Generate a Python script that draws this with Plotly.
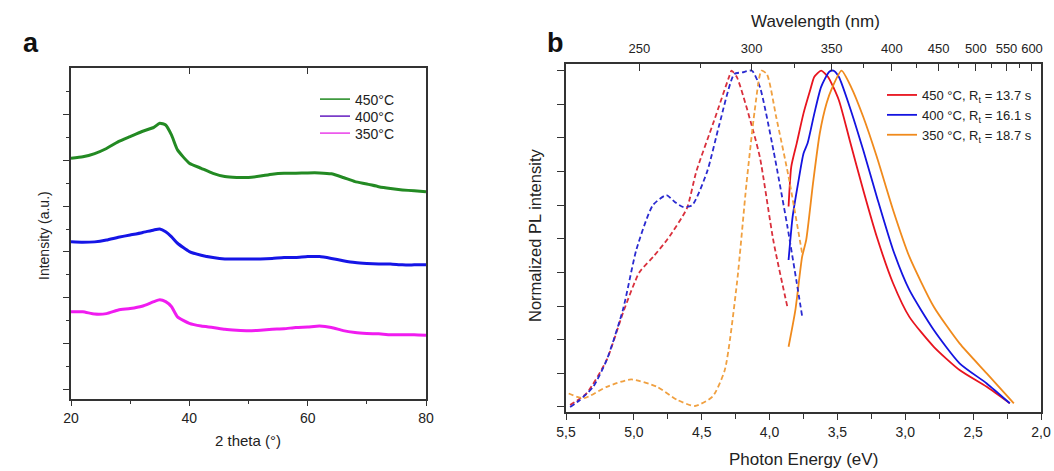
import plotly.graph_objects as go

W, H = 1054, 471

# ---- panel a: XRD patterns (offset, arbitrary units) ----
theta = [20, 22, 24, 26, 28, 30, 32, 34, 35, 36, 37, 38, 40, 42, 44, 46, 48, 50,
         52, 54, 56, 58, 60, 62, 64, 66, 68, 70, 72, 74, 76, 78, 80]
xrd_450 = [5.04, 5.07, 5.14, 5.25, 5.40, 5.51, 5.62, 5.71, 5.80, 5.76, 5.54, 5.22, 4.93,
           4.82, 4.71, 4.64, 4.62, 4.62, 4.65, 4.69, 4.71, 4.71, 4.72, 4.72, 4.70, 4.62,
           4.53, 4.48, 4.42, 4.38, 4.35, 4.33, 4.31]
xrd_400 = [3.22, 3.21, 3.22, 3.26, 3.32, 3.37, 3.42, 3.48, 3.50, 3.44, 3.33, 3.19, 3.01,
           2.93, 2.88, 2.85, 2.85, 2.85, 2.85, 2.86, 2.88, 2.88, 2.90, 2.90, 2.86, 2.81,
           2.77, 2.75, 2.74, 2.74, 2.72, 2.72, 2.72]
xrd_350 = [1.70, 1.70, 1.65, 1.66, 1.74, 1.77, 1.82, 1.92, 1.96, 1.92, 1.81, 1.59, 1.45,
           1.39, 1.36, 1.32, 1.30, 1.29, 1.30, 1.32, 1.33, 1.36, 1.37, 1.39, 1.36, 1.29,
           1.25, 1.23, 1.22, 1.20, 1.20, 1.20, 1.19]
xrd_names = ["450°C", "400°C", "350°C"]

# ---- panel b: excitation (dashed) and PL (solid), normalized ----
exc450_e = [5.47, 5.35, 5.20, 5.08, 4.96, 4.85, 4.75, 4.61, 4.54, 4.41, 4.30, 4.28, 4.24,
            4.12, 4.07, 3.97, 3.87]
exc450 = [0.006, 0.04, 0.14, 0.28, 0.40, 0.45, 0.50, 0.59, 0.70, 0.85, 0.98, 1.0, 0.98,
          0.82, 0.74, 0.49, 0.30]
exc400_e = [5.47, 5.40, 5.30, 5.20, 5.08, 4.98, 4.86, 4.76, 4.70, 4.64, 4.57, 4.46, 4.37,
            4.26, 4.20, 4.13, 4.07, 3.97, 3.87, 3.80, 3.76]
exc400 = [0.0, 0.02, 0.06, 0.14, 0.29, 0.47, 0.60, 0.63, 0.61, 0.595, 0.60, 0.70, 0.84,
          0.99, 0.995, 1.0, 0.95, 0.76, 0.54, 0.37, 0.27]
exc350_e = [5.48, 5.37, 5.20, 5.02, 4.83, 4.68, 4.55, 4.42, 4.33, 4.24, 4.17, 4.11, 4.06,
            4.02, 3.95, 3.86, 3.76]
exc350 = [0.04, 0.026, 0.06, 0.082, 0.06, 0.021, 0.003, 0.031, 0.11, 0.37, 0.665, 0.88,
          1.0, 0.99, 0.86, 0.685, 0.457]

pl450_e = [3.86, 3.84, 3.80, 3.75, 3.70, 3.67, 3.62, 3.57, 3.49, 3.41, 3.31, 3.21, 3.09,
           2.97, 2.79, 2.60, 2.40, 2.23]
pl450 = [0.596, 0.715, 0.784, 0.873, 0.943, 0.982, 1.0, 0.982, 0.913, 0.794, 0.645, 0.506,
         0.368, 0.268, 0.179, 0.11, 0.06, 0.011]
pl400_e = [3.86, 3.83, 3.79, 3.75, 3.72, 3.67, 3.62, 3.56, 3.53, 3.49, 3.41, 3.31, 3.21,
           3.09, 2.97, 2.79, 2.60, 2.40, 2.23]
pl400 = [0.437, 0.566, 0.665, 0.754, 0.784, 0.873, 0.952, 0.997, 1.0, 0.982, 0.893, 0.764,
         0.625, 0.467, 0.348, 0.229, 0.13, 0.07, 0.011]
pl350_e = [3.86, 3.81, 3.76, 3.73, 3.68, 3.63, 3.58, 3.54, 3.47, 3.40, 3.31, 3.21, 3.09,
           2.97, 2.79, 2.60, 2.40, 2.20]
pl350 = [0.179, 0.288, 0.447, 0.497, 0.665, 0.814, 0.903, 0.948, 1.0, 0.952, 0.863, 0.744,
         0.586, 0.447, 0.298, 0.189, 0.1, 0.011]
pl_names = ["450 °C, R<sub>t</sub> = 13.7 s", "400 °C, R<sub>t</sub> = 16.1 s",
            "350 °C, R<sub>t</sub> = 18.7 s"]

energy_ticks = [5.5, 5.0, 4.5, 4.0, 3.5, 3.0, 2.5, 2.0]
energy_labels = ["5,5", "5,0", "4,5", "4,0", "3,5", "3,0", "2,5", "2,0"]
wl_major = [250, 300, 350, 400, 450, 500, 550, 600]
wl_minor = [275, 325, 375, 425, 475, 525, 575]


def px(x):
    return x / W


def py(y):
    return 1 - y / H


FONT = "Liberation Sans, Arial, sans-serif"
AX = "#333333"

fig = go.Figure()

# panel a curves
xrd_cols = ["#238a23", "#1515e6", "#f01cf0"]
leg_cols = ["#3f9a3f", "#7a3cc8", "#ec5aec"]
leg_ids = ["legend", "legend3", "legend4"]
for ys, c in zip([xrd_450, xrd_400, xrd_350], xrd_cols):
    fig.add_trace(go.Scatter(x=theta, y=ys, mode="lines",
                             line=dict(color=c, width=3, shape="spline", smoothing=0.5),
                             showlegend=False, xaxis="x", yaxis="y"))
# legend swatches as drawn in the original (400°C shown in purple)
for name, c, lid in zip(xrd_names, leg_cols, leg_ids):
    fig.add_trace(go.Scatter(x=[None], y=[None], mode="lines", name=name,
                             line=dict(color=c, width=1.8), legend=lid,
                             xaxis="x4", yaxis="y"))

# panel b curves
exc_cols = ["#d9303c", "#2a2ad0", "#f0a040"]
pl_cols = ["#e8141e", "#1414e0", "#f08a1c"]
for es, ys, c in zip([exc450_e, exc400_e, exc350_e], [exc450, exc400, exc350], exc_cols):
    fig.add_trace(go.Scatter(x=es, y=ys, mode="lines", showlegend=False,
                             line=dict(color=c, width=1.8, dash="5px,3px", shape="spline",
                                       smoothing=0.6),
                             xaxis="x3", yaxis="y2"))
for es, ys, c, n in zip([pl450_e, pl400_e, pl350_e], [pl450, pl400, pl350], pl_cols, pl_names):
    fig.add_trace(go.Scatter(x=es, y=ys, mode="lines", name=n, legend="legend2",
                             line=dict(color=c, width=1.8, shape="spline", smoothing=0.6),
                             xaxis="x2", yaxis="y2"))

a_dom_x = [px(71), px(426)]
a_dom_y = [py(398.5), py(68)]
b_dom_x = [px(566), px(1041)]
b_dom_y = [py(412), py(64)]

tickfont = dict(family=FONT, size=14, color="#222")


def label(text, x, y, size, angle=0, bold=False):
    return dict(text=f"<b>{text}</b>" if bold else text, x=px(x), y=py(y),
                xref="paper", yref="paper", xanchor="center", yanchor="middle",
                showarrow=False, textangle=angle,
                font=dict(family=FONT, size=size, color="#111" if bold else "#222"))


def leg(x, y, size):
    return dict(x=px(x), y=py(y), xanchor="left", yanchor="top",
                font=dict(family=FONT, size=size, color="#222"),
                bgcolor="rgba(0,0,0,0)", itemwidth=30)


fig.update_layout(
    width=W, height=H,
    margin=dict(l=0, r=0, t=0, b=0, autoexpand=False),
    paper_bgcolor="white", plot_bgcolor="white",
    font=dict(family=FONT, color="#222"),
    xaxis=dict(domain=a_dom_x, range=[20, 80], tickvals=[20, 40, 60, 80],
               ticks="outside", ticklen=6, tickwidth=1.2, tickcolor=AX,
               minor=dict(tickvals=[30, 50, 70], ticks="outside", ticklen=4, tickcolor=AX),
               showline=True, linecolor=AX, linewidth=1.5, mirror=True,
               showgrid=False, zeroline=False, tickfont=tickfont, anchor="y"),
    xaxis4=dict(overlaying="x", side="top", range=[20, 80], tickvals=[40, 60],
                ticks="inside", ticklen=6, tickcolor=AX, showticklabels=False,
                showgrid=False, zeroline=False, anchor="y"),
    yaxis=dict(domain=a_dom_y, range=[-0.185, 7.0], tickvals=[0, 1, 2, 3, 4, 5, 6],
               ticks="outside", ticklen=6, tickwidth=1.2, tickcolor=AX,
               minor=dict(tickvals=[0.5, 1.5, 2.5, 3.5, 4.5, 5.5, 6.5], ticks="outside",
                          ticklen=3, tickcolor=AX),
               showticklabels=False, showline=True, linecolor=AX, linewidth=1.5,
               mirror=True, showgrid=False, zeroline=False, anchor="x"),
    xaxis2=dict(domain=b_dom_x, range=[5.5, 2.0], tickvals=energy_ticks,
                ticktext=energy_labels, ticks="outside", ticklen=6, tickwidth=1.2,
                tickcolor=AX,
                minor=dict(tickvals=[5.25, 4.75, 4.25, 3.75, 3.25, 2.75, 2.25],
                           ticks="outside", ticklen=5, tickcolor=AX),
                showline=True, linecolor=AX, linewidth=1.5, mirror=True,
                showgrid=False, zeroline=False, tickfont=tickfont, anchor="y2"),
    xaxis3=dict(overlaying="x2", side="top", range=[5.5, 2.0],
                tickvals=[1239.84 / w for w in wl_major], ticktext=[str(w) for w in wl_major],
                ticks="inside", ticklen=7, tickwidth=1.2, tickcolor=AX, tickangle=0,
                ticklabelstandoff=7,
                minor=dict(tickvals=[1239.84 / w for w in wl_minor], ticks="inside",
                           ticklen=4, tickcolor=AX),
                showgrid=False, zeroline=False,
                tickfont=dict(family=FONT, size=13, color="#222"), anchor="y2"),
    yaxis2=dict(domain=b_dom_y, range=[-0.0149, 1.0199],
                tickvals=[i / 10 for i in range(11)], ticks="outside", ticklen=7,
                tickwidth=1.2, tickcolor=AX, showticklabels=False,
                showline=True, linecolor=AX, linewidth=1.5, mirror=True,
                showgrid=False, zeroline=False, anchor="x2"),
    legend=leg(315, 83.5, 14),
    legend3=leg(315, 100.5, 14),
    legend4=leg(315, 117.5, 14),
    legend2=leg(882, 80, 13),
    annotations=[
        label("a", 31, 43, 27, bold=True),
        label("b", 555, 43, 27, bold=True),
        label("2 theta (°)", 248, 440, 15),
        label("Intensity (a.u.)", 44, 236, 14, angle=-90),
        label("Photon Energy (eV)", 803, 459, 17),
        label("Wavelength (nm)", 815, 22, 17),
        label("Normalized PL intensity", 535, 236, 16.5, angle=-90),
    ],
)

fig.write_html("out.html", post_script="document.body.style.margin='0';",
               config={"displayModeBar": False})
